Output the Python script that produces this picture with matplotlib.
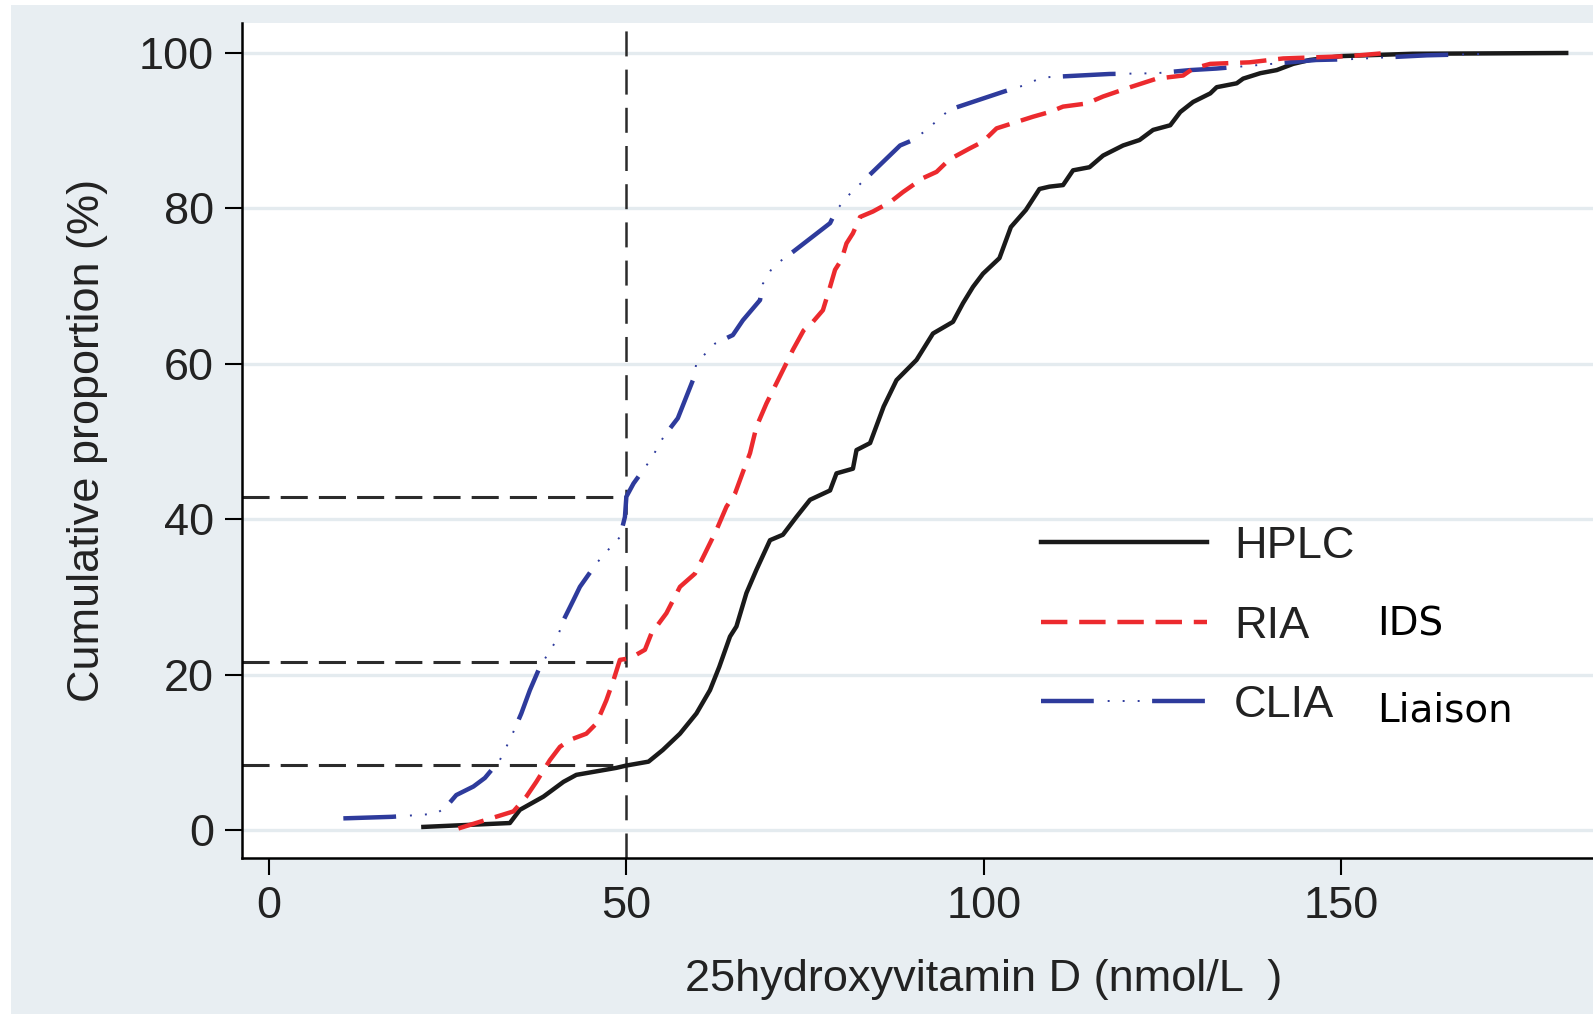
"""
Cumulative distribution of 25-hydroxyvitamin D by assay (HPLC / RIA / CLIA)
"""
# ###
# 1.Import packages
# ###
import matplotlib
matplotlib.use('Agg')
import matplotlib.pyplot as plt
from matplotlib.patches import Rectangle

# ###
# 2.Data
# ###
HPLC_X = [21.6, 33.7, 35.1, 38.4, 41.2, 43.0, 48.6, 50.0, 53.1, 55.1,
          57.5, 59.8, 61.7, 63.0, 64.5, 65.4, 66.8, 68.2, 70.1, 71.9,
          73.8, 75.7, 78.5, 79.4, 81.7, 82.2, 84.1, 86.0, 87.8, 90.6,
          92.9, 95.7, 97.1, 98.5, 99.9, 102.2, 103.8, 105.9, 107.8, 109.2,
          111.1, 112.5, 114.8, 116.7, 119.5, 121.8, 123.7, 126.1, 127.5, 129.3,
          131.7, 132.6, 135.4, 136.3, 138.7, 141.0, 143.3, 145.6, 150.0, 160.0,
          181.5]
HPLC_Y = [0.4, 0.9, 2.6, 4.3, 6.2, 7.1, 8.0, 8.3, 8.8, 10.3,
          12.4, 15.0, 18.0, 21.0, 24.9, 26.2, 30.5, 33.5, 37.3, 38.0,
          40.3, 42.5, 43.7, 45.9, 46.5, 48.9, 49.8, 54.5, 57.9, 60.5,
          63.9, 65.4, 67.8, 69.9, 71.6, 73.6, 77.6, 79.8, 82.5, 82.8,
          83.0, 84.9, 85.3, 86.8, 88.1, 88.8, 90.1, 90.7, 92.4, 93.7,
          94.8, 95.6, 96.1, 96.7, 97.4, 97.8, 98.6, 99.1, 99.6, 99.9,
          100.0]

RIA_X = [26.5, 34.2, 36.0, 37.4, 39.3, 40.7, 42.1, 44.4, 45.8, 47.2,
         48.2, 49.1, 50.5, 52.6, 53.5, 55.6, 57.5, 59.6, 61.0, 62.6,
         64.0, 65.2, 66.4, 67.3, 68.2, 69.6, 71.0, 72.4, 73.3, 74.8,
         76.1, 77.5, 78.5, 79.2, 80.1, 80.8, 81.7, 82.7, 84.5, 86.9,
         88.7, 91.5, 93.4, 95.2, 98.0, 99.9, 101.8, 106.9, 109.2, 111.1,
         114.4, 116.7, 120.5, 124.2, 127.9, 129.3, 131.7, 137.2, 141.9, 151.2,
         156.3]
RIA_Y = [0.2, 2.4, 4.3, 6.2, 9.0, 10.7, 11.6, 12.4, 13.7, 16.7,
         19.3, 21.9, 22.1, 23.2, 25.3, 27.9, 31.3, 33.0, 35.6, 38.6,
         41.6, 43.3, 46.3, 48.5, 51.9, 54.9, 57.5, 60.1, 61.8, 64.3,
         65.4, 66.9, 69.9, 72.1, 73.4, 75.5, 76.8, 78.9, 79.6, 80.8,
         82.1, 83.9, 84.7, 86.3, 87.7, 88.6, 90.3, 91.8, 92.4, 93.1,
         93.5, 94.4, 95.6, 96.7, 97.1, 98.0, 98.6, 98.8, 99.3, 99.6,
         100.0]

CLIA_X = [10.4, 17.2, 23.4, 24.8, 26.2, 28.6, 30.2, 32.3, 33.9, 35.3,
          36.5, 37.9, 40.2, 41.2, 42.6, 43.5, 45.8, 47.2, 49.1, 49.8,
          50.0, 51.0, 53.5, 55.2, 57.2, 59.4, 59.8, 62.4, 64.9, 66.3,
          68.7, 69.1, 70.5, 73.3, 78.5, 79.4, 81.3, 83.8, 88.3, 90.1,
          92.0, 95.2, 102.7, 105.5, 107.8, 109.2, 117.6, 124.2, 128.9, 132.6,
          139.1, 146.5, 151.2, 162.0, 170.8]
CLIA_Y = [1.5, 1.7, 2.1, 3.0, 4.5, 5.6, 6.7, 9.0, 12.0, 15.0,
          18.0, 21.0, 24.4, 27.0, 29.6, 31.3, 34.3, 35.8, 37.7, 40.3,
          42.9, 44.6, 47.8, 50.6, 53.0, 58.1, 60.1, 62.6, 63.7, 65.6,
          68.2, 70.3, 72.5, 74.4, 78.1, 79.8, 81.9, 84.1, 88.1, 88.8,
          90.1, 92.7, 95.0, 95.8, 96.7, 96.9, 97.3, 97.4, 97.8, 98.0,
          98.5, 99.1, 99.2, 99.7, 99.9]

CUTOFF_X = 50
REF_Y    = [42.9, 21.6, 8.4]   # proportion below 50 nmol/L: CLIA, RIA, HPLC

SERIES_LABELS = ['HPLC', 'RIA', 'CLIA']
KIT_LABELS    = ['', 'IDS', 'Liaison']
X_TICKS = [0, 50, 100, 150]
Y_TICKS = [0, 20, 40, 60, 80, 100]
X_LABEL = '25hydroxyvitamin D (nmol/L  )'
Y_LABEL = 'Cumulative proportion (%)'

# ###
# 3.Const variables
# ###
COLOR_BLACK = '#1a1a1a'
COLOR_RED   = '#ec2a2e'
COLOR_BLUE  = '#2e3b9c'
COLOR_REF   = '#2b2b2b'
COLOR_GRID  = '#e4ebef'
COLOR_BG    = '#e8eef2'
COLOR_TEXT  = '#222222'

FONT_SIZE = 32.5
LINE_W    = 3.2

plt.rcParams['font.family'] = ['Liberation Sans', 'DejaVu Sans']
plt.rcParams['lines.scale_dashes'] = False


# ###
# 4.Draw
# ###
def draw_chart(image_name='out.png'):
    fig = plt.figure(figsize=(15.93, 10.19), dpi=100, facecolor='white')
    # Stata-like outer background
    fig.add_artist(Rectangle((11 / 1593, 5 / 1019), 1.0, 1.0 - 10 / 1019,
                             transform=fig.transFigure, facecolor=COLOR_BG,
                             edgecolor='none', zorder=-10))
    ax = fig.add_axes([242 / 1593, 1 - 858 / 1019, 1 - 242 / 1593, (858 - 23) / 1019])
    ax.set_facecolor('white')
    ax.set_xlim(-3.78, 185.25)
    ax.set_ylim(-3.6, 103.86)

    # grid
    for y in Y_TICKS:
        ax.axhline(y, color=COLOR_GRID, linewidth=2.4, zorder=0)

    # reference lines at 50 nmol/L
    ax.axvline(CUTOFF_X, color=COLOR_REF, linewidth=1.8, linestyle=(0, (18, 9.5)), zorder=2)
    ax.hlines(REF_Y, ax.get_xlim()[0], CUTOFF_X, colors=COLOR_REF, linewidth=2.2,
              linestyles=[(0, (19.5, 8))], zorder=2)

    # curves
    l_hplc, = ax.plot(HPLC_X, HPLC_Y, color=COLOR_BLACK, linewidth=LINE_W,
                      solid_joinstyle='round', zorder=3)
    l_clia, = ax.plot(CLIA_X, CLIA_Y, color=COLOR_BLUE, linewidth=LINE_W,
                      linestyle=(0, (38, 42)), zorder=4)
    l_clia_dot, = ax.plot(CLIA_X, CLIA_Y, color=COLOR_BLUE, linewidth=1.4,
                          linestyle=(32, (1.4, 9.4, 1.4, 9.4, 1.4, 57.0)), zorder=4)
    l_ria, = ax.plot(RIA_X, RIA_Y, color=COLOR_RED, linewidth=LINE_W,
                     linestyle=(0, (19, 8.5)), zorder=5)

    # axes style
    for side in ['top', 'right']:
        ax.spines[side].set_visible(False)
    for side in ['left', 'bottom']:
        ax.spines[side].set_linewidth(1.8)
        ax.spines[side].set_color('black')
    ax.set_xticks(X_TICKS)
    ax.set_yticks(Y_TICKS)
    ax.tick_params(axis='both', length=12, width=1.5, pad=8, labelsize=FONT_SIZE,
                   labelcolor=COLOR_TEXT)
    ax.set_xlabel(X_LABEL, fontsize=FONT_SIZE, color=COLOR_TEXT)
    ax.xaxis.set_label_coords((984 - 242) / 1351, -(980 - 858) / 835)
    ax.set_ylabel(Y_LABEL, fontsize=FONT_SIZE, color=COLOR_TEXT)
    ax.yaxis.set_label_coords(-(242 - 88) / 1351, 0.5)
    ax.yaxis.label.set_va('center')
    ax.xaxis.label.set_va('center')

    # legend
    leg = ax.legend([l_hplc, l_ria, (l_clia, l_clia_dot)], SERIES_LABELS,
                    loc='center left', bbox_to_anchor=((1041 - 242) / 1351, (858 - 626) / 835),
                    frameon=False, fontsize=FONT_SIZE, handlelength=3.68, handletextpad=0.6,
                    labelspacing=0.85, borderpad=0, borderaxespad=0)
    for t in leg.get_texts():
        t.set_color(COLOR_TEXT)

    # kit names next to legend entries
    kit_y = [(858 - 545) / 835, (858 - 625) / 835, (858 - 710) / 835]
    for label, y in zip(KIT_LABELS, kit_y):
        if label:
            ax.text((1377 - 242) / 1351, y, label, transform=ax.transAxes,
                    fontsize=28, family='DejaVu Sans', color='black', va='center')

    fig.savefig(image_name, dpi=100, facecolor=fig.get_facecolor())
    plt.close(fig)


# ###
# 5.Main
# ###
if __name__ == '__main__':
    draw_chart('out.png')
